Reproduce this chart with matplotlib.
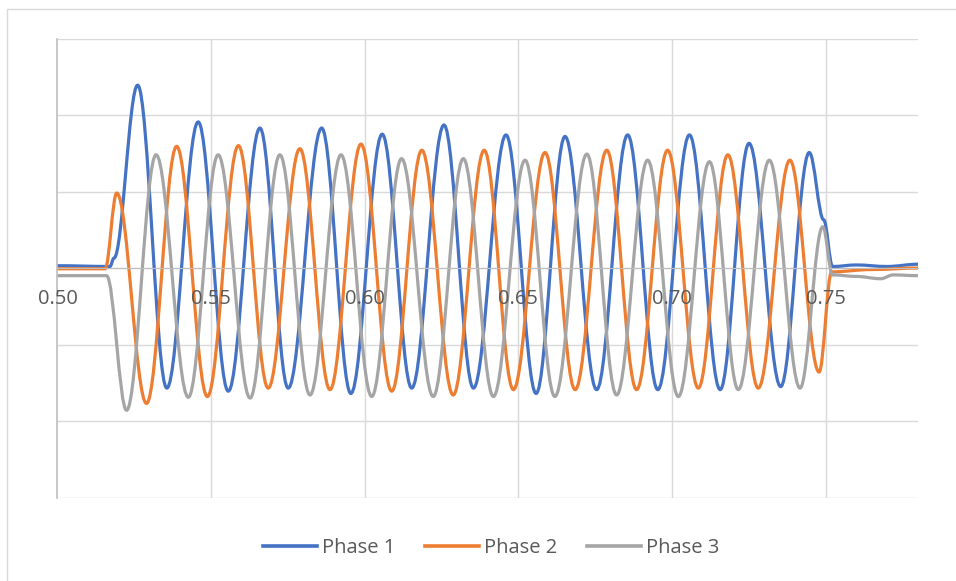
import matplotlib.pyplot as plt
from matplotlib.path import Path
from matplotlib.patches import PathPatch, Rectangle

plt.rcParams['font.family'] = ['Open Sans', 'DejaVu Sans']

# Waveform turning points (time in s, value in gridline units)
phase1_t = [0.5000, 0.5171, 0.5184, 0.5261, 0.5356, 0.5458, 0.5556, 0.5659, 0.5751,
            0.5860, 0.5955, 0.6057, 0.6153, 0.6258, 0.6354, 0.6460, 0.6558, 0.6652,
            0.6755, 0.6856, 0.6954, 0.7057, 0.7157, 0.7251, 0.7354, 0.7447, 0.7494,
            0.7523, 0.7600, 0.7700, 0.7802]
phase1_v = [0.03, 0.02, 0.13, 2.39, -1.57, 1.91, -1.61, 1.83, -1.57,
            1.83, -1.64, 1.75, -1.57, 1.87, -1.57, 1.74, -1.64, 1.72,
            -1.59, 1.74, -1.59, 1.74, -1.59, 1.63, -1.55, 1.51, 0.63,
            0.02, 0.04, 0.02, 0.05]

phase2_t = [0.5000, 0.5155, 0.5193, 0.5290, 0.5388, 0.5488, 0.5589, 0.5686, 0.5789,
            0.5887, 0.5988, 0.6088, 0.6186, 0.6288, 0.6389, 0.6484, 0.6587, 0.6685,
            0.6788, 0.6885, 0.6986, 0.7086, 0.7182, 0.7281, 0.7384, 0.7479, 0.7520,
            0.7650, 0.7802]
phase2_v = [-0.01, -0.01, 0.98, -1.77, 1.59, -1.68, 1.60, -1.57, 1.56,
            -1.59, 1.62, -1.61, 1.54, -1.66, 1.54, -1.59, 1.51, -1.59,
            1.54, -1.59, 1.54, -1.57, 1.48, -1.57, 1.41, -1.36, -0.05,
            -0.02, 0.0]

phase3_t = [0.5000, 0.5160, 0.5225, 0.5321, 0.5426, 0.5523, 0.5627, 0.5724, 0.5822,
            0.5923, 0.6023, 0.6120, 0.6223, 0.6321, 0.6419, 0.6522, 0.6619, 0.6723,
            0.6820, 0.6921, 0.7021, 0.7122, 0.7216, 0.7317, 0.7417, 0.7491, 0.7523,
            0.7600, 0.7680, 0.7720, 0.7802]
phase3_v = [-0.10, -0.10, -1.86, 1.48, -1.69, 1.48, -1.70, 1.48, -1.66,
            1.48, -1.68, 1.43, -1.68, 1.43, -1.68, 1.41, -1.68, 1.49,
            -1.66, 1.41, -1.68, 1.39, -1.59, 1.41, -1.57, 0.54, -0.09,
            -0.11, -0.14, -0.09, -0.10]

series = [('Phase 1', phase1_t, phase1_v, '#4472C4'),
          ('Phase 2', phase2_t, phase2_v, '#ED7D31'),
          ('Phase 3', phase3_t, phase3_v, '#A5A5A5')]

x_ticks = [0.50, 0.55, 0.60, 0.65, 0.70, 0.75]
y_grid = [-3, -2, -1, 0, 1, 2, 3]


def smooth_path(ts, vs, k=0.364):
    # cubic bezier between turning points, flat tangent at each one
    verts = [(ts[0], vs[0])]
    codes = [Path.MOVETO]
    for i in range(1, len(ts)):
        dt = ts[i] - ts[i - 1]
        verts += [(ts[i - 1] + k * dt, vs[i - 1]), (ts[i] - k * dt, vs[i]), (ts[i], vs[i])]
        codes += [Path.CURVE4] * 3
    return Path(verts, codes)


fig = plt.figure(figsize=(9.56, 5.81), dpi=100)
ax = fig.add_axes([0.0601, 0.1437, 0.9005, 0.79])

for yy in y_grid:
    ax.axhline(yy, color='#D9D9D9', lw=1.0, zorder=0.5)
for xx in x_ticks[1:]:
    ax.axvline(xx, color='#D9D9D9', lw=1.0, zorder=0.5)

for name, ts, vs, col in series:
    ax.add_patch(PathPatch(smooth_path(ts, vs), facecolor='none', edgecolor=col,
                           lw=2.3, joinstyle='round', capstyle='round', zorder=2))
    ax.plot([], [], color=col, lw=2.6, label=name)

ax.set_xlim(0.5, 0.7802)
ax.set_ylim(-3, 3)
ax.set_xticks(x_ticks)
ax.set_xticklabels([f'{x:.2f}' for x in x_ticks])
ax.set_yticks([])
ax.tick_params(axis='x', length=0, pad=15, labelsize=14.5, labelcolor='#595959')
ax.set_axisbelow(False)

ax.spines['top'].set_visible(False)
ax.spines['right'].set_visible(False)
ax.spines['bottom'].set_position(('data', 0))
ax.spines['bottom'].set_color('#BFBFBF')
ax.spines['left'].set_color('#BFBFBF')
ax.spines['left'].set_linewidth(1.2)

fig.legend(loc='center', bbox_to_anchor=(491 / 956, 33 / 581), ncol=3, frameon=False,
           fontsize=14.5, labelcolor='#595959', handlelength=2.7, handletextpad=0.25,
           columnspacing=1.45)

# outer chart border
fig.patches.append(Rectangle((0.007, -0.1), 1.2, 1.0845, transform=fig.transFigure,
                             fill=False, edgecolor='#D9D9D9', lw=1.0))

fig.savefig('out.png', dpi=100)
